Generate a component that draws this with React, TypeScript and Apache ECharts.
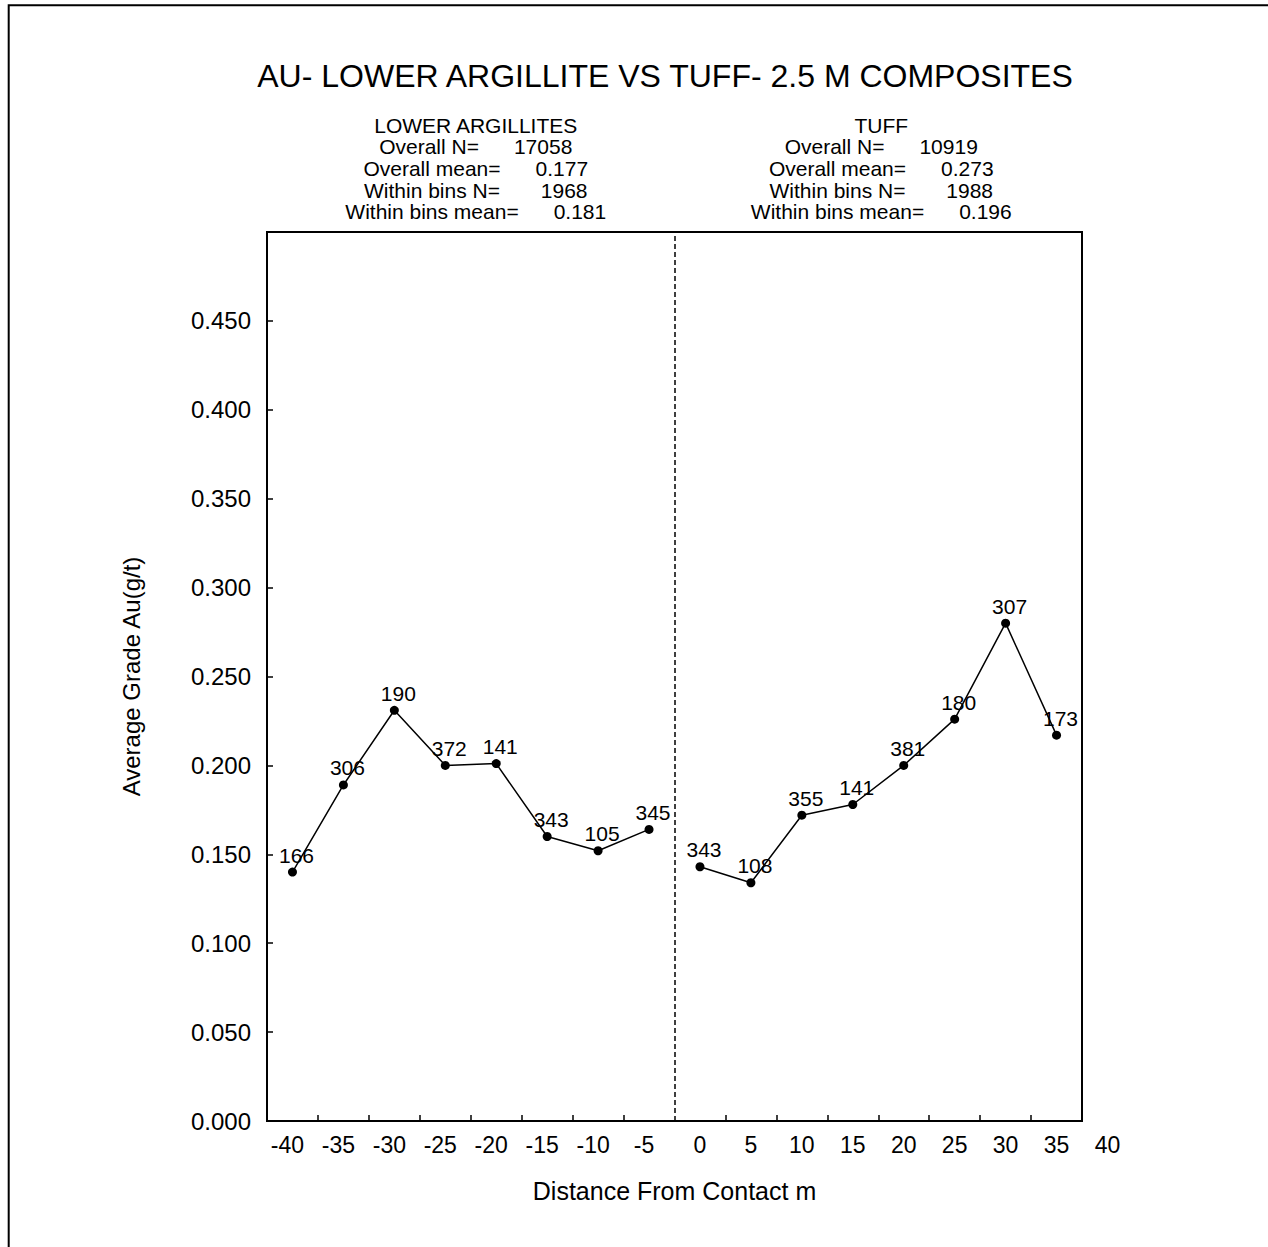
import React, { useEffect, useRef } from "react";
import * as echarts from "echarts";

const FONT = "'Liberation Sans', Arial, Helvetica, sans-serif";

// ---- data ----
const xLeft = [-40, -35, -30, -25, -20, -15, -10, -5];
const gradeLeft = [0.140, 0.189, 0.231, 0.200, 0.201, 0.160, 0.152, 0.164];
const countLeft = [166, 306, 190, 372, 141, 343, 105, 345];

const xRight = [0, 5, 10, 15, 20, 25, 30, 35];
const gradeRight = [0.143, 0.134, 0.172, 0.178, 0.200, 0.226, 0.280, 0.217];
const countRight = [343, 108, 355, 141, 381, 180, 307, 173];

const xTickLabels = [-40, -35, -30, -25, -20, -15, -10, -5, 0, 5, 10, 15, 20, 25, 30, 35, 40];
const xBinEdges = [-37.5, -32.5, -27.5, -22.5, -17.5, -12.5, -7.5, 2.5, 7.5, 12.5, 17.5, 22.5, 27.5, 32.5];
const contactX = -2.5;
const xMin = -42.5;
const xMax = 37.5;
const yMin = 0;
const yMax = 0.5;
const yStep = 0.05;

const titleText = "AU- LOWER ARGILLITE VS TUFF- 2.5 M COMPOSITES";
const xAxisName = "Distance From Contact m";
const yAxisName = "Average Grade Au(g/t)";

const statLabels = ["Overall N=", "Overall mean=", "Within bins N=", "Within bins mean="];
const statGaps = [6, 6, 7, 6];
const leftGroupName = "LOWER ARGILLITES";
const leftStats = ["17058", "0.177", "1968", "0.181"];
const rightGroupName = "TUFF";
const rightStats = ["10919", "0.273", "1988", "0.196"];

function headerLines(name: string, stats: string[]) {
  return [name, ...statLabels.map((l, i) => l + " ".repeat(statGaps[i]) + stats[i])];
}

export default function App() {
  const ref = useRef<HTMLDivElement>(null);
  useEffect(() => {
    if (!ref.current) return;
    const chart = echarts.init(ref.current, undefined, { renderer: "svg" });

    const labelStyle = (counts: number[]) => ({
      show: true,
      position: "top",
      distance: 2,
      offset: [4, 0],
      color: "#000",
      fontSize: 21,
      fontFamily: FONT,
      formatter: (p: any) => String(counts[p.dataIndex]),
    });

    const inRange = xTickLabels.filter((v) => v >= xMin && v <= xMax);

    chart.setOption({
      animation: false,
      backgroundColor: "#fff",
      grid: {
        left: 267,
        top: 232,
        width: 815,
        height: 889,
        show: true,
        borderColor: "#000",
        borderWidth: 2,
        backgroundColor: "transparent",
      },
      xAxis: {
        type: "value",
        min: xMin,
        max: xMax,
        splitLine: { show: false },
        axisLine: { show: true, onZero: false, lineStyle: { color: "#000", width: 2 } },
        axisTick: {
          show: true,
          inside: true,
          length: 6,
          customValues: xBinEdges,
          lineStyle: { color: "#000", width: 1.5 },
        },
        axisLabel: {
          customValues: inRange,
          margin: 12,
          color: "#000",
          fontSize: 23,
          fontFamily: FONT,
          formatter: (v: number) => (v < 0 ? "{neg|" + v + "}" : String(v)),
          rich: {
            neg: { padding: [0, 10, 0, 0], color: "#000", fontSize: 23, fontFamily: FONT },
          },
        },
        name: xAxisName,
        nameLocation: "middle",
        nameGap: 57,
        nameTextStyle: { color: "#000", fontSize: 25, fontFamily: FONT },
      },
      yAxis: {
        type: "value",
        min: yMin,
        max: yMax,
        interval: yStep,
        splitLine: { show: false },
        axisLine: { show: true, onZero: false, lineStyle: { color: "#000", width: 2 } },
        axisTick: { show: true, inside: true, length: 6, lineStyle: { color: "#000", width: 1.5 } },
        axisLabel: {
          margin: 16,
          color: "#000",
          fontSize: 24,
          fontFamily: FONT,
          formatter: (v: number) => (v >= yMax - 1e-9 ? "" : v.toFixed(3)),
        },
        name: yAxisName,
        nameLocation: "middle",
        nameGap: 124,
        nameTextStyle: { color: "#000", fontSize: 24, fontFamily: FONT },
      },
      series: [
        {
          type: "line",
          data: xLeft.map((x, i) => [x, gradeLeft[i]]),
          symbol: "circle",
          symbolSize: 9,
          itemStyle: { color: "#000" },
          lineStyle: { color: "#000", width: 1.5 },
          label: labelStyle(countLeft),
          markLine: {
            silent: true,
            symbol: ["none", "none"],
            label: { show: false },
            lineStyle: { color: "#000", type: [5, 3], width: 1.5 },
            data: [{ xAxis: contactX }],
          },
        },
        {
          type: "line",
          data: xRight.map((x, i) => [x, gradeRight[i]]),
          symbol: "circle",
          symbolSize: 9,
          itemStyle: { color: "#000" },
          lineStyle: { color: "#000", width: 1.5 },
          label: labelStyle(countRight),
        },
      ],
    });

    // extra tick label beyond the axis extent, positioned via the axis scale
    const outLabels = xTickLabels.filter((v) => v < xMin || v > xMax);
    const yBase = chart.convertToPixel({ yAxisIndex: 0 }, yMin) as number;
    const leftHalfCenter =
      ((chart.convertToPixel({ xAxisIndex: 0 }, xMin) as number) +
        (chart.convertToPixel({ xAxisIndex: 0 }, contactX) as number)) / 2;
    const rightHalfCenter =
      ((chart.convertToPixel({ xAxisIndex: 0 }, contactX) as number) +
        (chart.convertToPixel({ xAxisIndex: 0 }, xMax) as number)) / 2;

    const headerEls: any[] = [];
    const addHeader = (lines: string[], cx: number) => {
      lines.forEach((t, i) => {
        headerEls.push({
          type: "text",
          x: cx,
          y: 125 + i * 21.7,
          style: {
            text: t,
            fill: "#000",
            font: `21px ${FONT}`,
            textAlign: "center",
            textVerticalAlign: "middle",
          },
        });
      });
    };
    addHeader(headerLines(leftGroupName, leftStats), leftHalfCenter + 5);
    addHeader(headerLines(rightGroupName, rightStats), rightHalfCenter + 3);

    chart.setOption({
      graphic: [
        {
          type: "polyline",
          shape: { points: [[8.7, 1300], [8.7, 5.2], [1300, 5.2]] },
          style: { stroke: "#000", lineWidth: 2, fill: "none" },
        },
        {
          type: "text",
          x: 665,
          y: 76,
          style: {
            text: titleText,
            fill: "#000",
            font: `32px ${FONT}`,
            textAlign: "center",
            textVerticalAlign: "middle",
          },
        },
        ...headerEls,
        ...outLabels.map((v) => ({
          type: "text",
          x: chart.convertToPixel({ xAxisIndex: 0 }, v) as number,
          y: yBase + 12,
          style: {
            text: String(v),
            fill: "#000",
            font: `23px ${FONT}`,
            textAlign: "center",
            textVerticalAlign: "top",
          },
        })),
      ],
    });

    return () => chart.dispose();
  }, []);

  return (
    <div
      ref={ref}
      style={{ position: "absolute", left: 0, top: 0, width: 1268, height: 1247, background: "#fff" }}
    />
  );
}
